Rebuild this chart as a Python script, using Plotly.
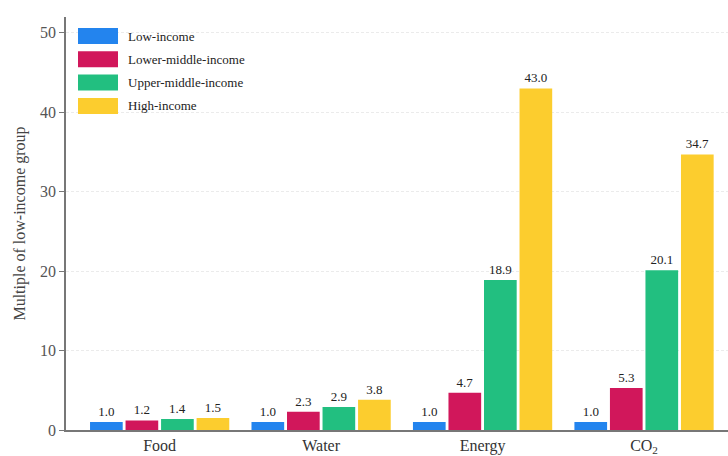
import plotly.graph_objects as go

categories = ["Food", "Water", "Energy", "CO<sub>2</sub>"]
groups = ["Low-income", "Lower-middle-income", "Upper-middle-income", "High-income"]
low_income = [1.0, 1.0, 1.0, 1.0]
lower_middle = [1.2, 2.3, 4.7, 5.3]
upper_middle = [1.4, 2.9, 18.9, 20.1]
high_income = [1.5, 3.8, 43.0, 34.7]
colors = ["#2384ee", "#d1175b", "#22bf80", "#fccd2e"]
y_ticks = [0, 10, 20, 30, 40, 50]

series = [low_income, lower_middle, upper_middle, high_income]
FONT = "Liberation Serif, Times New Roman, serif"

PW, PH = 662, 413  # plot area size in px

fig = go.Figure()
for name, vals, col in zip(groups, series, colors):
    fig.add_trace(go.Bar(
        x=categories, y=vals, name=name,
        marker=dict(color=col, line=dict(width=0)),
        text=[f"{v:.1f}" for v in vals], textposition="outside",
        textfont=dict(family=FONT, size=13, color="#222"),
        cliponaxis=False, showlegend=False,
    ))

# legend background (hides gridlines behind it)
fig.add_shape(type="rect", xref="paper", yref="paper", layer="below",
              x0=0.003, x1=184 / PW, y0=1 - 108 / PH, y1=1,
              fillcolor="white", line=dict(width=0))

# custom legend (wide swatches)
for i, (name, col) in enumerate(zip(groups, colors)):
    top = 11 + i * 23.3
    fig.add_shape(type="rect", xref="paper", yref="paper",
                  x0=12 / PW, x1=52 / PW, y0=1 - (top + 16) / PH, y1=1 - top / PH,
                  fillcolor=col, line=dict(width=0))
    fig.add_annotation(xref="paper", yref="paper", x=60 / PW, y=1 - (top + 8) / PH,
                       text=name, showarrow=False, xanchor="left", yanchor="middle",
                       font=dict(family=FONT, size=13, color="#222"))

fig.update_layout(
    width=728, height=456,
    margin=dict(l=66, r=0, t=17, b=26),
    paper_bgcolor="white", plot_bgcolor="white",
    barmode="group", bargap=0.12, bargroupgap=0.08,
    font=dict(family=FONT, color="#333"),
    showlegend=False,
)
fig.update_xaxes(
    range=[-0.58, 3.52], showline=True, linecolor="#777", linewidth=1.5,
    ticks="", tickfont=dict(family=FONT, size=16, color="#333"), showgrid=False,
    automargin=False,
)
fig.update_yaxes(
    range=[0, 52], tickvals=y_ticks, showline=True, linecolor="#777", linewidth=1.5,
    ticks="outside", ticklen=5, tickcolor="#777",
    tickfont=dict(family=FONT, size=16, color="#555"),
    showgrid=True, gridcolor="#ebebeb", griddash="3px,2px", gridwidth=1,
    zeroline=False, automargin=False,
    title=dict(text="Multiple of low-income group", font=dict(family=FONT, size=16, color="#444"), standoff=10),
)
fig.write_html("out.html", config={"displayModeBar": False},
               post_script="document.body.style.margin='0';")
